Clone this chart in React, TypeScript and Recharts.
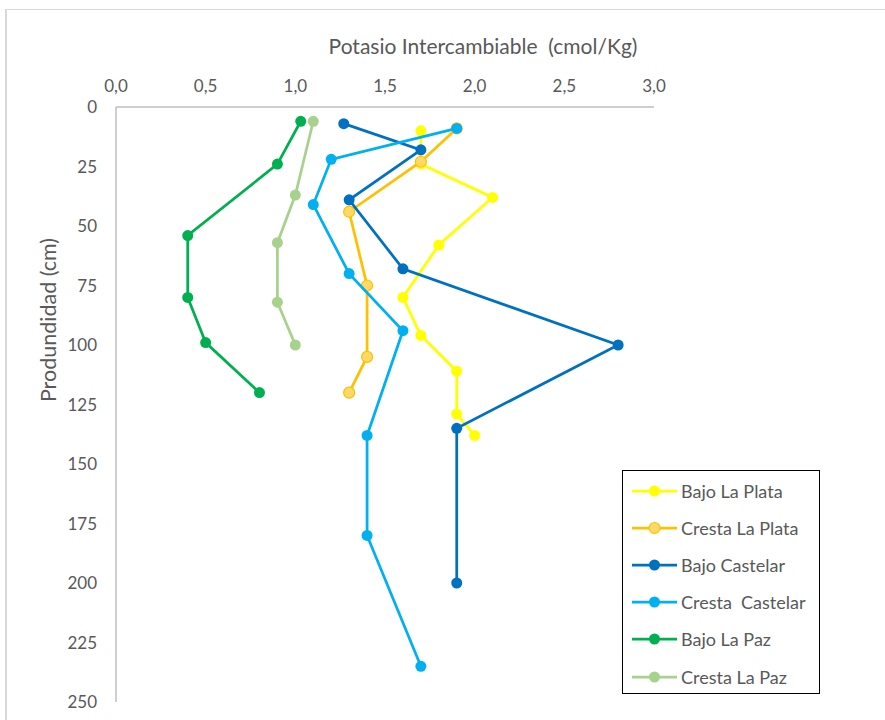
import React from "react";
import { ScatterChart, Scatter, XAxis, YAxis, Label } from "recharts";

// Exchangeable potassium (cmol/Kg) by depth (cm) for each soil profile
const bajoLaPlataK = [1.7, 1.7, 2.1, 1.8, 1.6, 1.7, 1.9, 1.9, 2.0];
const bajoLaPlataDepth = [10, 24, 38, 58, 80, 96, 111, 129, 138];

const crestaLaPlataK = [1.9, 1.7, 1.3, 1.4, 1.4, 1.3];
const crestaLaPlataDepth = [9, 23, 44, 75, 105, 120];

const bajoCastelarK = [1.27, 1.7, 1.3, 1.6, 2.8, 1.9, 1.9];
const bajoCastelarDepth = [7, 18, 39, 68, 100, 135, 200];

const crestaCastelarK = [1.9, 1.2, 1.1, 1.3, 1.6, 1.4, 1.4, 1.7];
const crestaCastelarDepth = [9, 22, 41, 70, 94, 138, 180, 235];

const bajoLaPazK = [1.03, 0.9, 0.4, 0.4, 0.5, 0.8];
const bajoLaPazDepth = [6, 24, 54, 80, 99, 120];

const crestaLaPazK = [1.1, 1.0, 0.9, 0.9, 1.0];
const crestaLaPazDepth = [6, 37, 57, 82, 100];

const xTicks = [0, 0.5, 1, 1.5, 2, 2.5, 3];
const yTicks = [0, 25, 50, 75, 100, 125, 150, 175, 200, 225, 250];

const FONT = "Lato, 'Open Sans', sans-serif";
const TEXT = "#595959";
const AXIS = "#bfbfbf";

type SeriesDef = {
  name: string;
  k: number[];
  depth: number[];
  stroke: string;
  fill: string;
};

const series: SeriesDef[] = [
  { name: "Bajo La Plata", k: bajoLaPlataK, depth: bajoLaPlataDepth, stroke: "#ffff00", fill: "#ffff00" },
  { name: "Cresta La Plata", k: crestaLaPlataK, depth: crestaLaPlataDepth, stroke: "#ffc000", fill: "#ffd966" },
  { name: "Bajo Castelar", k: bajoCastelarK, depth: bajoCastelarDepth, stroke: "#0070c0", fill: "#0070c0" },
  { name: "Cresta  Castelar", k: crestaCastelarK, depth: crestaCastelarDepth, stroke: "#00b0f0", fill: "#00b0f0" },
  { name: "Bajo La Paz", k: bajoLaPazK, depth: bajoLaPazDepth, stroke: "#00b050", fill: "#00b050" },
  { name: "Cresta La Paz", k: crestaLaPazK, depth: crestaLaPazDepth, stroke: "#a9d18e", fill: "#a9d18e" },
];

const toPoints = (s: SeriesDef) => s.k.map((v, i) => ({ x: v, y: s.depth[i] }));

const fmt = (v: number) => v.toFixed(1).replace(".", ",");

const makeDot = (s: SeriesDef) => (props: any) => (
  <circle
    cx={props.cx}
    cy={props.cy}
    r={5.5}
    fill={s.fill}
    stroke={s.stroke}
    strokeWidth={s.fill === s.stroke ? 0 : 1.2}
  />
);

const LegendBox = () => (
  <div
    style={{
      width: 198,
      height: 224,
      boxSizing: "border-box",
      border: "1.5px solid #000",
      background: "#fff",
      paddingTop: 1,
    }}
  >
    {series.map((s) => (
      <div
        key={s.name}
        style={{ height: 37.2, display: "flex", alignItems: "center" }}
      >
        <svg width={58} height={14} style={{ marginLeft: 9, flex: "none" }}>
          <line x1={0} y1={7} x2={45} y2={7} stroke={s.stroke} strokeWidth={2.75} />
          <circle cx={22.5} cy={7} r={5.5} fill={s.fill} stroke={s.stroke} strokeWidth={s.fill === s.stroke ? 0 : 1.2} />
        </svg>
        <span
          style={{
            marginLeft: -9,
            fontFamily: FONT,
            fontSize: 18,
            color: TEXT,
            whiteSpace: "pre",
          }}
        >
          {s.name}
        </span>
      </div>
    ))}
  </div>
);

export default function App() {
  return (
    <div
      style={{
        position: "absolute",
        left: 0,
        top: 0,
        width: 885,
        height: 720,
        overflow: "hidden",
        background: "#fff",
      }}
    >
      <div
        style={{
          position: "absolute",
          left: 5,
          top: 9,
          width: 900,
          height: 740,
          borderTop: "1.5px solid #d9d9d9",
          borderLeft: "2px solid #d9d9d9",
        }}
      />
      <div style={{ position: "absolute", left: 0, top: 0 }}>
        <ScatterChart
          width={885}
          height={720}
          margin={{ top: 77, left: 56, right: 231, bottom: 18 }}
        >
          <XAxis
            type="number"
            dataKey="x"
            orientation="top"
            domain={[0, 3]}
            ticks={xTicks}
            tickFormatter={fmt}
            height={30}
            axisLine={{ stroke: AXIS, strokeWidth: 1.5 }}
            tickLine={false}
            tickSize={0}
            tickMargin={15}
            tick={{ fill: TEXT, fontSize: 17, fontFamily: FONT }}
            allowDataOverflow
          >
            <Label
              content={() => (
                <text
                  x={483}
                  y={45}
                  textAnchor="middle"
                  dominantBaseline="central"
                  fill={TEXT}
                  fontSize={21}
                  fontFamily={FONT}
                  style={{ whiteSpace: "pre" }}
                >
                  {"Potasio Intercambiable  (cmol/Kg)"}
                </text>
              )}
            />
          </XAxis>
          <YAxis
            type="number"
            dataKey="y"
            reversed
            domain={[0, 250]}
            ticks={yTicks}
            width={60}
            axisLine={{ stroke: AXIS, strokeWidth: 1.5 }}
            tickLine={false}
            tickSize={0}
            tickMargin={19}
            tick={{ fill: TEXT, fontSize: 17, fontFamily: FONT }}
            allowDataOverflow
          >
            <Label
              content={() => (
                <text
                  x={48}
                  y={320}
                  transform="rotate(-90 48 320)"
                  textAnchor="middle"
                  dominantBaseline="central"
                  fill={TEXT}
                  fontSize={21.5}
                  fontFamily={FONT}
                >
                  Produndidad (cm)
                </text>
              )}
            />
          </YAxis>
          {series.map((s) => (
            <Scatter
              key={s.name}
              name={s.name}
              data={toPoints(s)}
              fill={s.fill}
              stroke={s.stroke}
              line={{ stroke: s.stroke, strokeWidth: 2.75 }}
              lineType="joint"
              shape={makeDot(s)}
              isAnimationActive={false}
            />
          ))}
        </ScatterChart>
      </div>
      <div style={{ position: "absolute", left: 622, top: 470 }}>
        <LegendBox />
      </div>
    </div>
  );
}
